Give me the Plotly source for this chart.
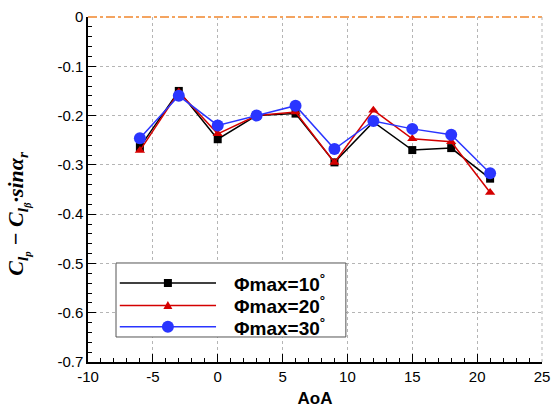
import plotly.graph_objects as go

aoa = [-6, -3, 0, 3, 6, 9, 12, 15, 18, 21]
phi10 = [-0.264, -0.150, -0.248, -0.200, -0.196, -0.295, -0.213, -0.270, -0.266, -0.328]
phi20 = [-0.271, -0.152, -0.237, -0.200, -0.193, -0.295, -0.189, -0.247, -0.253, -0.356]
phi30 = [-0.246, -0.160, -0.220, -0.200, -0.180, -0.268, -0.211, -0.227, -0.239, -0.317]
names = ["Φmax=10<sup>°</sup>", "Φmax=20<sup>°</sup>", "Φmax=30<sup>°</sup>"]
x_ticks = [-10, -5, 0, 5, 10, 15, 20, 25]
x_ticktext = ["-10", "-5", "0", "5", "10", "15", "20", "25"]
y_ticks = [-0.7, -0.6, -0.5, -0.4, -0.3, -0.2, -0.1, 0]
y_ticktext = ["-0.7", "-0.6", "-0.5", "-0.4", "-0.3", "-0.2", "-0.1", "0"]
colors = ["black", "#d40000", "#2a35ff"]
symbols = ["square", "triangle-up", "circle"]
sizes = [8, 9, 12]
series = [phi10, phi20, phi30]

fig = go.Figure()
for ys, nm, c, s, sz in zip(series, names, colors, symbols, sizes):
    fig.add_trace(go.Scatter(x=aoa, y=ys, name=nm, mode="lines+markers",
                             line=dict(color=c, width=1.5),
                             marker=dict(symbol=s, size=sz, color=c),
                             showlegend=False))

# zero reference line (dash-dot orange) along the top edge
fig.add_shape(type="line", xref="paper", x0=0, x1=1, yref="paper", y0=1, y1=1,
              line=dict(color="#f4a460", width=2, dash="dashdot"), layer="above")

# right edge dotted grid line
fig.add_shape(type="line", xref="paper", x0=1, x1=1, yref="paper", y0=0, y1=1,
              line=dict(color="#b5b5b5", width=1, dash="dot"))

# custom legend (long line samples as in reference)
box_x0, box_x1, box_y0, box_y1 = 0.0617, 0.568, 0.0725, 0.287
row_y = [0.229, 0.164, 0.102]
line_x0, line_x1, mark_x, text_x = 0.070, 0.282, 0.176, 0.317
fig.add_shape(type="rect", xref="paper", yref="paper", x0=box_x0, x1=box_x1, y0=box_y0, y1=box_y1,
              fillcolor="white", line=dict(color="#555555", width=1), layer="above")
for ry, nm, c, s, sz in zip(row_y, names, colors, symbols, sizes):
    fig.add_shape(type="line", xref="paper", yref="paper", x0=line_x0, x1=line_x1, y0=ry, y1=ry,
                  line=dict(color=c, width=1.5), layer="above")
    h = sz / 2
    if s == "square":
        fig.add_shape(type="rect", xref="paper", yref="paper", xsizemode="pixel", ysizemode="pixel",
                      xanchor=mark_x, yanchor=ry, x0=-h, x1=h, y0=-h, y1=h,
                      fillcolor=c, line=dict(width=0), layer="above")
    elif s == "circle":
        fig.add_shape(type="circle", xref="paper", yref="paper", xsizemode="pixel", ysizemode="pixel",
                      xanchor=mark_x, yanchor=ry, x0=-h, x1=h, y0=-h, y1=h,
                      fillcolor=c, line=dict(width=0), layer="above")
    else:
        fig.add_shape(type="path", xref="paper", yref="paper", xsizemode="pixel", ysizemode="pixel",
                      xanchor=mark_x, yanchor=ry, path=f"M{-h},{-h*0.8} L{h},{-h*0.8} L0,{h} Z",
                      fillcolor=c, line=dict(width=0), layer="above")
    fig.add_annotation(x=text_x, y=ry, xref="paper", yref="paper", xanchor="left", yanchor="middle",
                       text=f"<b>{nm}</b>", showarrow=False,
                       font=dict(family="Liberation Sans, Arial", size=19, color="black"))

# y-axis title
fig.add_annotation(x=-0.154, y=0.43, xref="paper", yref="paper", xanchor="center", yanchor="middle",
                   textangle=-90, showarrow=False,
                   text="<b><i>C<sub>l<sub>p</sub></sub> − C<sub>l<sub>β</sub></sub>·sinα<sub>r</sub></i></b>",
                   font=dict(family="Liberation Serif, DejaVu Serif", size=22, color="black"))

axis_font = dict(family="Liberation Sans, Arial", size=15, color="black")
fig.update_xaxes(range=[-10, 25], tickvals=x_ticks, ticktext=x_ticktext,
                 showline=True, linecolor="black", linewidth=1.5, mirror=False,
                 ticks="inside", ticklen=8, tickcolor="black", tickwidth=1,
                 minor=dict(ticks="inside", ticklen=4, dtick=1, tickcolor="black", showgrid=False),
                 showgrid=True, gridcolor="#b5b5b5", griddash="dot", gridwidth=1,
                 zeroline=False, tickfont=axis_font, automargin=False,
                 title=dict(text="<b>AoA</b>", font=dict(family="Liberation Sans, Arial", size=17, color="black"), standoff=8))
fig.update_yaxes(range=[-0.7, 0], tickvals=y_ticks, ticktext=y_ticktext,
                 showline=True, linecolor="black", linewidth=1.5, mirror=False,
                 ticks="inside", ticklen=8, tickcolor="black", tickwidth=1,
                 minor=dict(ticks="inside", ticklen=4, dtick=0.02, tickcolor="black", showgrid=False),
                 showgrid=True, gridcolor="#b5b5b5", griddash="dot", gridwidth=1,
                 zeroline=False, tickfont=axis_font, automargin=False)

fig.update_layout(
    width=554, height=409,
    margin=dict(l=88, r=12, t=17, b=47),
    plot_bgcolor="white", paper_bgcolor="white",
    showlegend=False,
)

fig.write_html("out.html", config={"displayModeBar": False},
               post_script="document.body.style.margin='0';document.body.style.overflow='hidden';")
